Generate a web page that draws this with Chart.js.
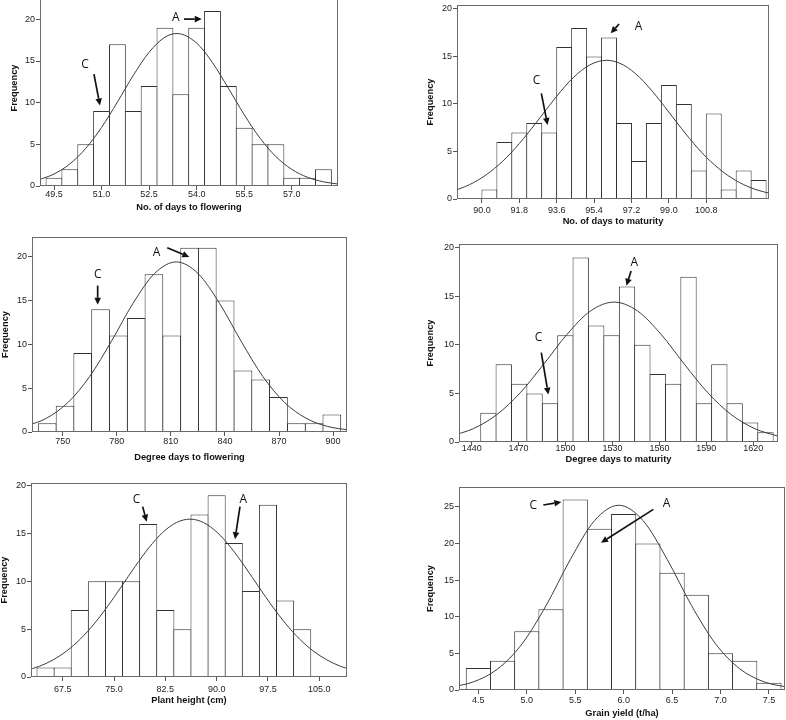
<!DOCTYPE html>
<html>
<head>
<meta charset="utf-8">
<script src="https://cdn.jsdelivr.net/npm/chart.js@4.4.1/dist/chart.umd.min.js"></script>
<style>
  html, body { margin: 0; padding: 0; background: #fff; }
  body { width: 786px; height: 720px; position: relative; overflow: hidden; }
  canvas { position: absolute; }
</style>
</head>
<body>
<canvas id="flowerDays"></canvas>
<canvas id="maturityDays"></canvas>
<canvas id="flowerDegree"></canvas>
<canvas id="maturityDegree"></canvas>
<canvas id="plantHeight"></canvas>
<canvas id="grainYield"></canvas>
<script>
// No. of days to flowering
const flowerDaysBins = [49.5, 50.0, 50.5, 51.0, 51.5, 52.0, 52.5, 53.0, 53.5, 54.0, 54.5, 55.0, 55.5, 56.0, 56.5, 57.0, 57.5, 58.0];
const flowerDaysCounts = [1, 2, 5, 9, 17, 9, 12, 19, 11, 19, 21, 12, 7, 5, 5, 1, 1, 2];
const flowerDaysCurveX = [49.0, 49.5, 50.0, 50.5, 51.0, 51.5, 52.0, 52.5, 53.0, 53.38, 54.0, 54.5, 55.0, 55.5, 56.0, 56.5, 57.0, 57.5, 58.0, 58.5];
const flowerDaysCurveY = [0.72, 1.44, 2.65, 4.51, 7.03, 10.07, 13.27, 16.05, 17.86, 18.3, 17.15, 14.80, 11.74, 8.56, 5.74, 3.53, 2.00, 1.04, 0.50, 0.22];
const flowerDaysTicks = [49.5, 51.0, 52.5, 54.0, 55.5, 57.0];

// No. of days to maturity
const maturityDaysBins = [90.36, 91.08, 91.80, 92.52, 93.24, 93.96, 94.68, 95.40, 96.12, 96.84, 97.56, 98.28, 99.00, 99.72, 100.44, 101.16, 101.88, 102.60, 103.32];
const maturityDaysCounts = [1, 6, 7, 8, 7, 16, 18, 15, 17, 8, 4, 8, 12, 10, 3, 9, 1, 3, 2];
const maturityDaysCurveX = [88.0, 88.8, 89.6, 90.4, 91.2, 92.0, 92.8, 93.6, 94.4, 95.2, 96.0, 96.8, 97.6, 98.4, 99.2, 100.0, 100.8, 101.6, 102.4, 103.2, 104.0];
const maturityDaysCurveY = [0.52, 0.98, 1.73, 2.86, 4.40, 6.35, 8.57, 10.82, 12.78, 14.12, 14.6, 14.12, 12.78, 10.82, 8.57, 6.35, 4.40, 2.86, 1.73, 0.98, 0.52];
const maturityDaysTicks = [90.0, 91.8, 93.6, 95.4, 97.2, 99.0, 100.8];

// Degree days to flowering
const flowerDegreeBins = [741.4, 751.3, 761.1, 771.0, 780.9, 790.8, 800.6, 810.5, 820.4, 830.2, 840.1, 850.0, 859.8, 869.7, 879.6, 889.5, 899.3];
const flowerDegreeCounts = [1, 3, 9, 14, 11, 13, 18, 11, 21, 21, 15, 7, 6, 4, 1, 1, 2];
const flowerDegreeCurveX = [729, 741, 753, 765, 777, 789, 801, 813, 825, 837, 849, 861, 873, 885, 897, 909];
const flowerDegreeCurveY = [0.63, 1.57, 3.38, 6.34, 10.34, 14.67, 18.09, 19.4, 18.09, 14.67, 10.34, 6.34, 3.38, 1.57, 0.63, 0.22];
const flowerDegreeTicks = [750, 780, 810, 840, 870, 900];

// Degree days to maturity
const maturityDegreeBins = [1450.7, 1460.5, 1470.4, 1480.2, 1490.1, 1499.9, 1509.7, 1519.6, 1529.4, 1539.3, 1549.1, 1558.9, 1568.8, 1578.6, 1588.5, 1598.3, 1608.1, 1618.0, 1627.8];
const maturityDegreeCounts = [3, 8, 6, 5, 4, 11, 19, 12, 11, 16, 10, 7, 6, 17, 4, 8, 4, 2, 1];
const maturityDegreeCurveX = [1426, 1441, 1456, 1471, 1486, 1501, 1516, 1531, 1546, 1561, 1576, 1591, 1606, 1621, 1636];
const maturityDegreeCurveY = [0.59, 1.37, 2.81, 5.06, 8.00, 11.09, 13.49, 14.4, 13.49, 11.09, 8.00, 5.06, 2.81, 1.37, 0.59];
const maturityDegreeTicks = [1440, 1470, 1500, 1530, 1560, 1590, 1620];

// Plant height (cm)
const heightBins = [65.0, 67.5, 70.0, 72.5, 75.0, 77.5, 80.0, 82.5, 85.0, 87.5, 90.0, 92.5, 95.0, 97.5, 100.0, 102.5];
const heightCounts = [1, 1, 7, 10, 10, 10, 16, 7, 5, 17, 19, 14, 9, 18, 8, 5];
const heightCurveX = [62.1, 64.1, 66.1, 68.1, 70.1, 72.1, 74.1, 76.1, 78.1, 80.1, 82.1, 84.1, 86.1, 88.1, 90.1, 92.1, 94.1, 96.1, 98.1, 100.1, 102.1, 104.1, 106.1, 108.1, 110.1];
const heightCurveY = [0.67, 1.12, 1.79, 2.73, 3.98, 5.56, 7.42, 9.47, 11.57, 13.51, 15.10, 16.14, 16.5, 16.14, 15.10, 13.51, 11.57, 9.47, 7.42, 5.56, 3.98, 2.73, 1.79, 1.12, 0.67];
const heightTicks = [67.5, 75.0, 82.5, 90.0, 97.5, 105.0];

// Grain yield (t/ha)
const yieldBins = [4.5, 4.75, 5.0, 5.25, 5.5, 5.75, 6.0, 6.25, 6.5, 6.75, 7.0, 7.25, 7.5];
const yieldCounts = [3, 4, 8, 11, 26, 22, 24, 20, 16, 13, 5, 4, 1];
const yieldCurveX = [4.2, 4.45, 4.7, 4.95, 5.2, 5.45, 5.7, 5.95, 6.2, 6.45, 6.7, 6.95, 7.2, 7.45, 7.7];
const yieldCurveY = [0.36, 1.11, 2.88, 6.28, 11.54, 17.81, 23.11, 25.2, 23.11, 17.81, 11.54, 6.28, 2.88, 1.11, 0.36];
const yieldTicks = [4.5, 5.0, 5.5, 6.0, 6.5, 7.0, 7.5];

const freqTicks = [0, 5, 10, 15, 20];
const freqTicks25 = [0, 5, 10, 15, 20, 25];

const FONT = "'Liberation Sans', Arial, sans-serif";

// frame round the plot area
const framePlugin = {
  id: 'frame',
  afterDatasetsDraw(chart) {
    const { ctx, chartArea: a } = chart;
    ctx.save();
    ctx.strokeStyle = '#6a6a6a';
    ctx.lineWidth = 1;
    ctx.strokeRect(Math.round(a.left) + 0.5, Math.round(a.top) + 0.5,
      Math.round(a.right - a.left) - 1, Math.round(a.bottom - a.top) - 1);
    ctx.restore();
  }
};

// "A" / "C" labels with arrows, placed in data units
const notesPlugin = {
  id: 'notes',
  afterDraw(chart, args, opts) {
    const { ctx, scales: { x, y } } = chart;
    const px = p => [x.getPixelForValue(p[0]), y.getPixelForValue(p[1])];
    ctx.save();
    ctx.fillStyle = '#111';
    ctx.strokeStyle = '#111';
    ctx.font = "12px 'Open Sans', sans-serif";
    ctx.textAlign = 'center';
    ctx.textBaseline = 'middle';
    (opts.items || []).forEach(n => {
      const t = px(n.at);
      ctx.fillText(n.text, t[0], t[1]);
      const [x1, y1] = px(n.from);
      const [x2, y2] = px(n.to);
      const ang = Math.atan2(y2 - y1, x2 - x1);
      const head = 7, half = 3.3;
      const bx = x2 - head * Math.cos(ang), by = y2 - head * Math.sin(ang);
      ctx.lineWidth = 1.7;
      ctx.beginPath();
      ctx.moveTo(x1, y1);
      ctx.lineTo(bx, by);
      ctx.stroke();
      ctx.beginPath();
      ctx.moveTo(x2, y2);
      ctx.lineTo(bx - half * Math.sin(ang), by + half * Math.cos(ang));
      ctx.lineTo(bx + half * Math.sin(ang), by - half * Math.cos(ang));
      ctx.closePath();
      ctx.fill();
    });
    ctx.restore();
  }
};

function histogram(id, p) {
  const canvas = document.getElementById(id);
  const [left, top, width, height] = p.box;
  canvas.width = width;
  canvas.height = height;
  canvas.style.left = left + 'px';
  canvas.style.top = top + 'px';
  const areaW = width - p.yW - p.padRight;
  const binPx = areaW * p.binWidth / (p.xRange[1] - p.xRange[0]);

  return new Chart(canvas, {
    type: 'bar',
    data: {
      datasets: [
        {
          type: 'line',
          data: p.curveX.map((v, i) => ({ x: v, y: p.curveY[i] })),
          borderColor: '#3c3c3c',
          borderWidth: 1,
          pointRadius: 0,
          cubicInterpolationMode: 'monotone',
          fill: false,
          clip: 0,
          order: 0
        },
        {
          type: 'bar',
          data: p.bins.map((v, i) => ({ x: v, y: p.counts[i] })),
          backgroundColor: '#ffffff',
          borderColor: '#333333',
          borderWidth: 1,
          barPercentage: 1 + 1 / binPx,
          categoryPercentage: 1,
          inflateAmount: 0,
          order: 1
        }
      ]
    },
    options: {
      responsive: false,
      animation: false,
      devicePixelRatio: 1,
      layout: { padding: { left: 0, right: p.padRight, top: p.padTop, bottom: 0 } },
      plugins: {
        legend: { display: false },
        tooltip: { enabled: false },
        notes: { items: p.notes }
      },
      scales: {
        x: {
          type: 'linear',
          min: p.xRange[0],
          max: p.xRange[1],
          offset: false,
          afterBuildTicks: s => { s.ticks = p.xTicks.map(v => ({ value: v })); },
          afterFit: s => { s.height = p.xH; s.paddingLeft = 0; s.paddingRight = 0; },
          grid: { drawOnChartArea: false, drawTicks: true, tickLength: 4, color: '#555', offset: false },
          border: { display: false },
          ticks: {
            autoSkip: false, maxRotation: 0, padding: p.xTickPad, color: '#222',
            font: { family: FONT, size: 9 },
            callback: v => Number(v).toFixed(p.decimals)
          },
          title: {
            display: true, text: p.xTitle, color: '#111',
            font: { family: FONT, size: 9.3, weight: 'bold' },
            padding: { top: 0, bottom: p.xTitlePad }
          }
        },
        y: {
          type: 'linear',
          min: 0,
          max: p.yMax,
          afterBuildTicks: s => { s.ticks = p.yTicks.map(v => ({ value: v })); },
          afterFit: s => { s.width = p.yW; s.paddingTop = 0; s.paddingBottom = 0; },
          grid: { drawOnChartArea: false, drawTicks: true, tickLength: 4, color: '#555' },
          border: { display: false },
          ticks: { padding: 1, color: '#222', font: { family: FONT, size: 9 } },
          title: {
            display: true, text: 'Frequency', color: '#111',
            font: { family: FONT, size: 9.3, weight: 'bold' },
            padding: { top: p.yTitlePad, bottom: 0 }
          }
        }
      }
    },
    plugins: [framePlugin, notesPlugin]
  });
}

histogram('flowerDays', {
  box: [0, -10, 345, 225], yW: 40, xH: 29, padRight: 7, padTop: 0,
  xRange: [49.058, 58.459], yMax: 23.52, binWidth: 0.5, decimals: 1,
  bins: flowerDaysBins, counts: flowerDaysCounts,
  curveX: flowerDaysCurveX, curveY: flowerDaysCurveY,
  xTicks: flowerDaysTicks, yTicks: freqTicks,
  xTitle: 'No. of days to flowering', xTickPad: -0.5, xTitlePad: 2.1, yTitlePad: 8.4,
  notes: [
    { text: 'A', at: [53.34, 20.24], from: [53.60, 20.03], to: [54.16, 20.03] },
    { text: 'C', at: [50.48, 14.6], from: [50.76, 13.43], to: [50.95, 9.66] }
  ]
});

histogram('maturityDays', {
  box: [400, 0, 380, 230], yW: 57, xH: 31, padRight: 11, padTop: 5,
  xRange: [88.80, 103.82], yMax: 20.42, binWidth: 0.72, decimals: 1,
  bins: maturityDaysBins, counts: maturityDaysCounts,
  curveX: maturityDaysCurveX, curveY: maturityDaysCurveY,
  xTicks: maturityDaysTicks, yTicks: freqTicks,
  xTitle: 'No. of days to maturity', xTickPad: 2.3, xTitlePad: 3.4, yTitlePad: 24.4,
  notes: [
    { text: 'A', at: [97.54, 18.2], from: [96.6, 18.42], to: [96.2, 17.44] },
    { text: 'C', at: [92.63, 12.42], from: [92.86, 11.12], to: [93.16, 7.79] }
  ]
});

histogram('flowerDegree', {
  box: [-5, 230, 360, 235], yW: 37, xH: 33, padRight: 8, padTop: 7,
  xRange: [732.97, 907.7], yMax: 22.24, binWidth: 9.87, decimals: 0,
  bins: flowerDegreeBins, counts: flowerDegreeCounts,
  curveX: flowerDegreeCurveX, curveY: flowerDegreeCurveY,
  xTicks: flowerDegreeTicks, yTicks: freqTicks,
  xTitle: 'Degree days to flowering', xTickPad: 0.6, xTitlePad: 2.4, yTitlePad: 4.4,
  notes: [
    { text: 'A', at: [802.1, 20.49], from: [808.0, 21.02], to: [820.2, 19.96] },
    { text: 'C', at: [769.4, 17.99], from: [769.4, 16.7], to: [769.4, 14.5] }
  ]
});

histogram('maturityDegree', {
  box: [400, 230, 385, 235], yW: 59, xH: 23, padRight: 7, padTop: 14,
  xRange: [1431.9, 1635.8], yMax: 20.38, binWidth: 9.84, decimals: 0,
  bins: maturityDegreeBins, counts: maturityDegreeCounts,
  curveX: maturityDegreeCurveX, curveY: maturityDegreeCurveY,
  xTicks: maturityDegreeTicks, yTicks: freqTicks,
  xTitle: 'Degree days to maturity', xTickPad: -3, xTitlePad: 0.4, yTitlePad: 24.4,
  notes: [
    { text: 'A', at: [1544.0, 18.45], from: [1541.9, 17.59], to: [1538.9, 16.08] },
    { text: 'C', at: [1482.8, 10.76], from: [1484.5, 9.21], to: [1489.0, 4.88] }
  ]
});

histogram('plantHeight', {
  box: [-5, 470, 360, 250], yW: 36, xH: 43, padRight: 8, padTop: 13,
  xRange: [62.87, 109.05], yMax: 20.28, binWidth: 2.5, decimals: 1,
  bins: heightBins, counts: heightCounts,
  curveX: heightCurveX, curveY: heightCurveY,
  xTicks: heightTicks, yTicks: freqTicks,
  xTitle: 'Plant height (cm)', xTickPad: 2.9, xTitlePad: 14.4, yTitlePad: 3.4,
  notes: [
    { text: 'C', at: [78.31, 18.57], from: [79.19, 17.81], to: [79.77, 16.24] },
    { text: 'A', at: [93.9, 18.57], from: [93.41, 17.81], to: [92.68, 14.4] }
  ]
});

histogram('grainYield', {
  box: [400, 470, 386, 250], yW: 59, xH: 30, padRight: 1, padTop: 17,
  xRange: [4.30, 7.666], yMax: 27.69, binWidth: 0.25, decimals: 1,
  bins: yieldBins, counts: yieldCounts,
  curveX: yieldCurveX, curveY: yieldCurveY,
  xTicks: yieldTicks, yTicks: freqTicks25,
  xTitle: 'Grain yield (t/ha)', xTickPad: 1.6, xTitlePad: 1.1, yTitlePad: 24.4,
  notes: [
    { text: 'C', at: [5.068, 25.09], from: [5.171, 25.23], to: [5.357, 25.64] },
    { text: 'A', at: [6.444, 25.45], from: [6.307, 24.64], to: [5.766, 20.09] }
  ]
});
</script>
</body>
</html>
